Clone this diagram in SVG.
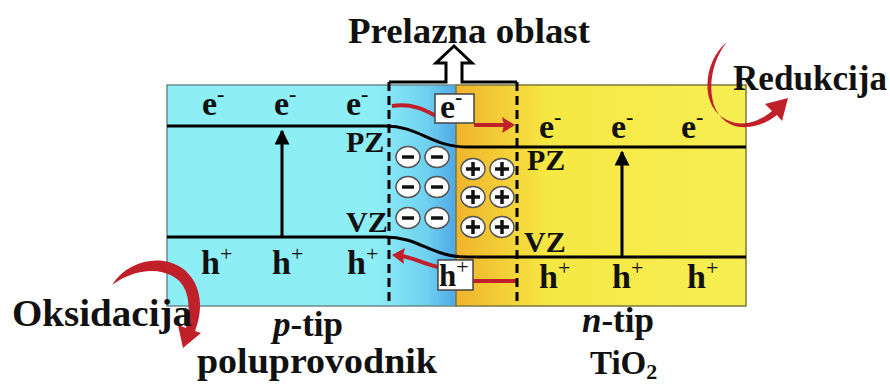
<svg xmlns="http://www.w3.org/2000/svg" width="890" height="385" viewBox="0 0 890 385">
<defs>
<linearGradient id="gBlue" x1="167" y1="0" x2="456" y2="0" gradientUnits="userSpaceOnUse">
<stop offset="0" stop-color="#8eeef6"/>
<stop offset="0.72" stop-color="#8eeef6"/>
<stop offset="0.9" stop-color="#6fd0f0"/>
<stop offset="1" stop-color="#4fa8e6"/>
</linearGradient>
<linearGradient id="gYel" x1="456" y1="0" x2="746" y2="0" gradientUnits="userSpaceOnUse">
<stop offset="0" stop-color="#f0b42c"/>
<stop offset="0.15" stop-color="#f3cc36"/>
<stop offset="0.32" stop-color="#f6e844"/>
<stop offset="1" stop-color="#f6ee52"/>
</linearGradient>
<marker id="ah" viewBox="0 0 10 10" refX="9" refY="5" markerWidth="5" markerHeight="5" orient="auto" markerUnits="strokeWidth">
<path d="M0,0 L10,5 L0,10 z" fill="#000"/>
</marker>
</defs>
<style>
.t{font-family:"Liberation Serif","Times New Roman",serif;font-weight:bold;fill:#111}
.lbl{font-size:34px}
.sup{font-size:22px}
.plus{font-size:22px;font-weight:normal}
.band{fill:none;stroke:#000;stroke-width:3}
.dash{fill:none;stroke:#000;stroke-width:3;stroke-dasharray:9 5}
.red{fill:none;stroke:#c0202a;stroke-width:4}
.redf{fill:#c0202a}
.ion{fill:#fff;stroke:#555;stroke-width:1.5}
.sign{stroke:#111;stroke-width:3.5}
.box{fill:#fff;stroke:#444;stroke-width:1.5}
</style>

<g id="p-region">
<rect x="167" y="85" width="290" height="221" fill="url(#gBlue)" stroke="#6a8a8c" stroke-width="1.5"/>
</g>
<g id="n-region">
<rect x="456" y="85" width="290" height="221" fill="url(#gYel)" stroke="#7a7a3a" stroke-width="1.5"/>
</g>

<g id="bands">
<path class="band" d="M167,126 H385 C420,126 430,147 468,147 H746"/>
<path class="band" d="M167,237 H385 C420,237 430,257 468,257 H746"/>
</g>

<g id="connectors">
<line x1="282" y1="237" x2="282" y2="131" stroke="#000" stroke-width="3" marker-end="url(#ah)"/>
<line x1="622" y1="257" x2="622" y2="152" stroke="#000" stroke-width="3" marker-end="url(#ah)"/>
<path class="red" d="M392,106 C412,103 425,110 436,116"/>
<path class="red" d="M474,125 L505,125"/>
<path class="redf" d="M515,125 L502,117 L504,125 L502,133 z"/>
<path class="red" d="M438,267 C425,264 413,258 402,256"/>
<path class="redf" d="M392,255 L405,248 L403,256 L404,264 z"/>
<path class="red" d="M473,281 L516,281"/>
<path class="redf" d="M727,42 C704,60 698,106 727,120 C745,129 763,119 772,111 L765,104 L788,98 L782,121 L777,115 C763,126 744,131 730,124 C704,111 707,66 727,42 z"/>
<path class="redf" d="M112,285 C128,260 161,254 182,268 C200,281 205,306 195,331 L201,333 L183,348 L178,325 L186,328 C192,306 188,285 174,277 C156,266 131,271 112,285 z"/>
</g>

<g id="junction">
<path class="dash" d="M389,82 V306"/>
<path class="dash" d="M517,82 V306"/>
<path d="M389,82 H446 V63 H436 L454,46 L472,63 H462 V82 H517" fill="#fff" stroke="#000" stroke-width="3" stroke-linejoin="miter"/>
</g>

<g id="ions-neg">
<ellipse class="ion" cx="408" cy="157" rx="12" ry="10.5"/><line class="sign" x1="402" y1="157" x2="414" y2="157"/>
<ellipse class="ion" cx="437" cy="157" rx="12" ry="10.5"/><line class="sign" x1="431" y1="157" x2="443" y2="157"/>
<ellipse class="ion" cx="408" cy="187" rx="12" ry="10.5"/><line class="sign" x1="402" y1="187" x2="414" y2="187"/>
<ellipse class="ion" cx="437" cy="187" rx="12" ry="10.5"/><line class="sign" x1="431" y1="187" x2="443" y2="187"/>
<ellipse class="ion" cx="408" cy="218" rx="12" ry="10.5"/><line class="sign" x1="402" y1="218" x2="414" y2="218"/>
<ellipse class="ion" cx="437" cy="218" rx="12" ry="10.5"/><line class="sign" x1="431" y1="218" x2="443" y2="218"/>
</g>
<g id="ions-pos">
<ellipse class="ion" cx="473" cy="169" rx="12" ry="10.5"/><path class="sign" d="M466,169 H480 M473,162 V176"/>
<ellipse class="ion" cx="502" cy="169" rx="12" ry="10.5"/><path class="sign" d="M495,169 H509 M502,162 V176"/>
<ellipse class="ion" cx="473" cy="197" rx="12" ry="10.5"/><path class="sign" d="M466,197 H480 M473,190 V204"/>
<ellipse class="ion" cx="502" cy="197" rx="12" ry="10.5"/><path class="sign" d="M495,197 H509 M502,190 V204"/>
<ellipse class="ion" cx="473" cy="227" rx="12" ry="10.5"/><path class="sign" d="M466,227 H480 M473,220 V234"/>
<ellipse class="ion" cx="502" cy="227" rx="12" ry="10.5"/><path class="sign" d="M495,227 H509 M502,220 V234"/>
</g>

<g id="box-e">
<rect class="box" x="435" y="94" width="39" height="29"/>
<text class="t lbl" x="440" y="118">e<tspan class="sup" dy="-14">-</tspan></text>
</g>
<g id="box-h">
<rect class="box" x="438" y="260" width="35" height="30"/>
<text class="t" font-size="31" x="439" y="286">h<tspan class="plus" dy="-12">+</tspan></text>
</g>

<g id="electrons">
<text class="t lbl" x="202" y="115">e<tspan class="sup" dy="-14">-</tspan></text>
<text class="t lbl" x="274" y="115">e<tspan class="sup" dy="-14">-</tspan></text>
<text class="t lbl" x="346" y="115">e<tspan class="sup" dy="-14">-</tspan></text>
<text class="t lbl" x="539" y="138">e<tspan class="sup" dy="-14">-</tspan></text>
<text class="t lbl" x="611" y="138">e<tspan class="sup" dy="-14">-</tspan></text>
<text class="t lbl" x="681" y="138">e<tspan class="sup" dy="-14">-</tspan></text>
</g>
<g id="holes">
<text class="t lbl" x="201" y="274">h<tspan class="plus" dy="-13">+</tspan></text>
<text class="t lbl" x="272" y="274">h<tspan class="plus" dy="-13">+</tspan></text>
<text class="t lbl" x="347" y="274">h<tspan class="plus" dy="-13">+</tspan></text>
<text class="t lbl" x="539" y="288">h<tspan class="plus" dy="-13">+</tspan></text>
<text class="t lbl" x="612" y="288">h<tspan class="plus" dy="-13">+</tspan></text>
<text class="t lbl" x="687" y="288">h<tspan class="plus" dy="-13">+</tspan></text>
</g>

<g id="band-labels">
<text class="t" font-size="30" x="346" y="152">PZ</text>
<text class="t" font-size="30" x="346" y="232">VZ</text>
<text class="t" font-size="30" x="527" y="170">PZ</text>
<text class="t" font-size="30" x="524" y="252">VZ</text>
</g>

<g id="titles">
<text class="t" font-size="36" x="348" y="43" textLength="242" lengthAdjust="spacingAndGlyphs">Prelazna oblast</text>
<text class="t" font-size="35" x="733" y="90" textLength="154" lengthAdjust="spacingAndGlyphs">Redukcija</text>
<text class="t" font-size="37" x="12" y="326" textLength="180" lengthAdjust="spacingAndGlyphs">Oksidacija</text>
<text class="t" font-size="35" x="273" y="336"><tspan font-style="italic">p</tspan>-tip</text>
<text class="t" font-size="35" x="197" y="373" textLength="240" lengthAdjust="spacingAndGlyphs">poluprovodnik</text>
<text class="t" font-size="35" x="582" y="332"><tspan font-style="italic">n</tspan>-tip</text>
<text class="t" font-size="33" x="590" y="374">TiO<tspan font-size="22" dy="5">2</tspan></text>
</g>
</svg>
